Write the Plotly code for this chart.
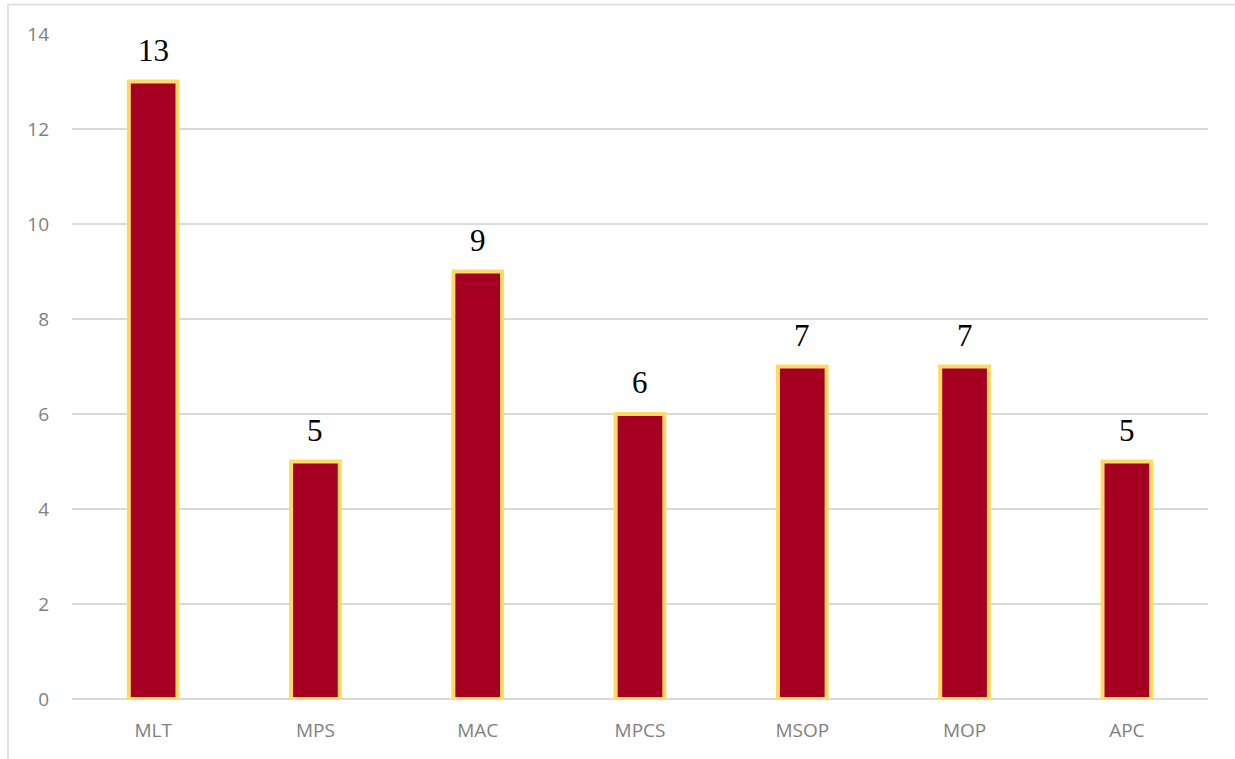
import plotly.graph_objects as go

categories = ["MLT", "MPS", "MAC", "MPCS", "MSOP", "MOP", "APC"]
values = [13, 5, 9, 6, 7, 7, 5]
y_ticks = [0, 2, 4, 6, 8, 10, 12, 14]

W, H = 1235, 759
ml, mr, mt, mb = 72, 27, 34, 60
pw, ph = W - ml - mr, H - mt - mb

fig = go.Figure()
fig.add_trace(go.Bar(
    x=categories, y=values,
    marker=dict(color="#A50021", line=dict(color="#FFD966", width=4)),
    width=0.3,
    hoverinfo="x+y",
))
for c, v in zip(categories, values):
    fig.add_annotation(x=c, y=v, text=str(v), showarrow=False,
                       yanchor="bottom", yshift=12,
                       font=dict(family="Liberation Serif", size=31, color="#000000"))

# outer chart border (top and left)
fig.add_shape(type="rect", xref="paper", yref="paper",
              x0=(8 - ml) / pw, x1=(W + 20 - ml) / pw,
              y0=-(H + 20 - mt - ph) / ph, y1=1 + (mt - 4.5) / ph,
              line=dict(color="#D9D9D9", width=1.5), fillcolor="rgba(0,0,0,0)")

fig.update_layout(
    width=W, height=H,
    margin=dict(l=ml, r=mr, t=mt, b=mb),
    plot_bgcolor="white", paper_bgcolor="white",
    showlegend=False,
    bargap=0.69,
    xaxis=dict(showline=False, ticks="", showgrid=False, ticklabelstandoff=18,
               tickfont=dict(family="Open Sans", size=19, color="#7F7F7F")),
    yaxis=dict(range=[0, 14], tickvals=y_ticks, showgrid=True,
               gridcolor="#D9D9D9", gridwidth=1.5, zeroline=True,
               zerolinecolor="#D9D9D9", zerolinewidth=1.5,
               showline=False, ticks="", ticklabelstandoff=22,
               tickfont=dict(family="Open Sans", size=19, color="#7F7F7F")),
)
fig.write_html("out.html")
